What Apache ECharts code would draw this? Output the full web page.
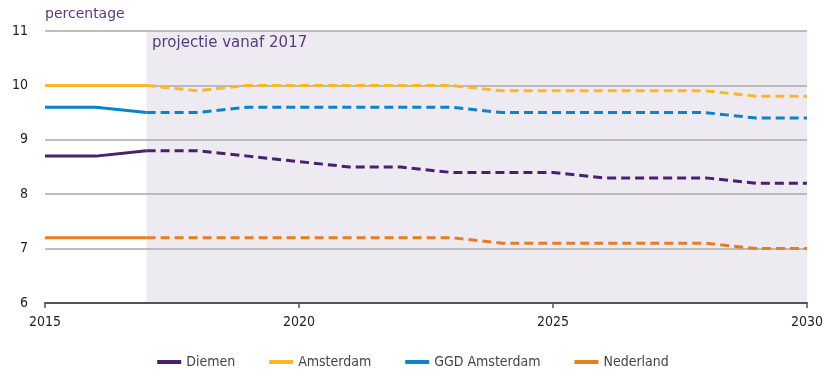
<!DOCTYPE html>
<html>
<head>
<meta charset="utf-8">
<script src="https://cdn.jsdelivr.net/npm/echarts@6/dist/echarts.min.js"></script>
<style>
  html, body { margin: 0; padding: 0; background: #ffffff; }
  #chart { width: 826px; height: 372px; }
</style>
</head>
<body>
<div id="chart"></div>
<script>
// Years 2015..2030; realised values up to 2017, projection from 2017 on
const years = [2015, 2016, 2017, 2018, 2019, 2020, 2021, 2022, 2023, 2024, 2025, 2026, 2027, 2028, 2029, 2030];
const projectionStart = 2017;

const diemen    = [8.7, 8.7, 8.8, 8.8, 8.7, 8.6, 8.5, 8.5, 8.4, 8.4, 8.4, 8.3, 8.3, 8.3, 8.2, 8.2];
const amsterdam = [10.0, 10.0, 10.0, 9.9, 10.0, 10.0, 10.0, 10.0, 10.0, 9.9, 9.9, 9.9, 9.9, 9.9, 9.8, 9.8];
const ggd       = [9.6, 9.6, 9.5, 9.5, 9.6, 9.6, 9.6, 9.6, 9.6, 9.5, 9.5, 9.5, 9.5, 9.5, 9.4, 9.4];
const nederland = [7.2, 7.2, 7.2, 7.2, 7.2, 7.2, 7.2, 7.2, 7.2, 7.1, 7.1, 7.1, 7.1, 7.1, 7.0, 7.0];

const seriesNames = ['Diemen', 'Amsterdam', 'GGD Amsterdam', 'Nederland'];
const seriesValues = [diemen, amsterdam, ggd, nederland];
const colors = ['#4a1f6f', '#fbb62a', '#0b82c9', '#e67e1f'];

const yTicks = { min: 6, max: 11, interval: 1 };
const xTicks = { min: 2015, max: 2030, interval: 5 };

const tickFont = 'DejaVu Sans Condensed, DejaVu Sans, sans-serif';
const textFont = 'DejaVu Sans, Verdana, sans-serif';

function pairs(vals, from, to) {
  const out = [];
  years.forEach((y, i) => { if (y >= from && y <= to) out.push([y, vals[i]]); });
  return out;
}

const series = [];

// shaded projection band, kept underneath the grid lines
series.push({
  name: 'band',
  type: 'line',
  data: [],
  z: 0,
  silent: true,
  markArea: {
    silent: true,
    itemStyle: { color: '#edebf1' },
    data: [[{ xAxis: projectionStart }, { xAxis: xTicks.max }]]
  }
});

seriesNames.forEach((name, k) => {
  // realised part: solid
  series.push({
    name: name,
    type: 'line',
    data: pairs(seriesValues[k], years[0], projectionStart),
    symbol: 'none',
    lineStyle: { color: colors[k], width: 3, type: 'solid' },
    itemStyle: { color: colors[k] },
    z: 5
  });
  // projection: dashed
  series.push({
    name: name,
    type: 'line',
    data: pairs(seriesValues[k], projectionStart, years[years.length - 1]),
    symbol: 'none',
    lineStyle: { color: colors[k], width: 3, type: [9, 5] },
    itemStyle: { color: colors[k] },
    z: 5
  });
});

const chart = echarts.init(document.getElementById('chart'));
chart.setOption({
  animation: false,
  backgroundColor: '#ffffff',
  color: colors,
  grid: { left: 45, right: 18, top: 31, bottom: 69 },
  graphic: [
    {
      type: 'text', left: 45, top: 7, z: 100,
      style: { text: 'percentage', fill: '#5b3a7e', font: '14px ' + textFont }
    },
    {
      type: 'text', left: 152, top: 36, z: 100,
      style: { text: 'projectie vanaf 2017', fill: '#5b3a7e', font: '15px ' + textFont }
    }
  ],
  legend: {
    data: seriesNames,
    bottom: -2,
    left: 'center',
    itemWidth: 24,
    itemHeight: 4,
    itemGap: 34,
    icon: 'rect',
    textStyle: { color: '#444', fontSize: 14, fontFamily: tickFont }
  },
  xAxis: {
    type: 'value',
    z: 3,
    min: xTicks.min, max: xTicks.max, interval: xTicks.interval,
    axisLine: { show: true, lineStyle: { color: '#555', width: 2 } },
    axisTick: { show: true, length: 5, lineStyle: { color: '#555', width: 1.5 } },
    axisLabel: {
      color: '#222', fontSize: 14, fontFamily: tickFont, margin: 12,
      showMinLabel: true, showMaxLabel: true,
      formatter: v => String(v)
    },
    splitLine: { show: false }
  },
  yAxis: {
    type: 'value',
    z: 2,
    min: yTicks.min, max: yTicks.max, interval: yTicks.interval,
    axisLine: { show: false },
    axisTick: { show: false },
    axisLabel: { color: '#222', fontSize: 14, fontFamily: tickFont, margin: 17 },
    splitLine: { show: true, lineStyle: { color: '#a8a8a8', width: 1.5 } }
  },
  series: series
});
</script>
</body>
</html>
